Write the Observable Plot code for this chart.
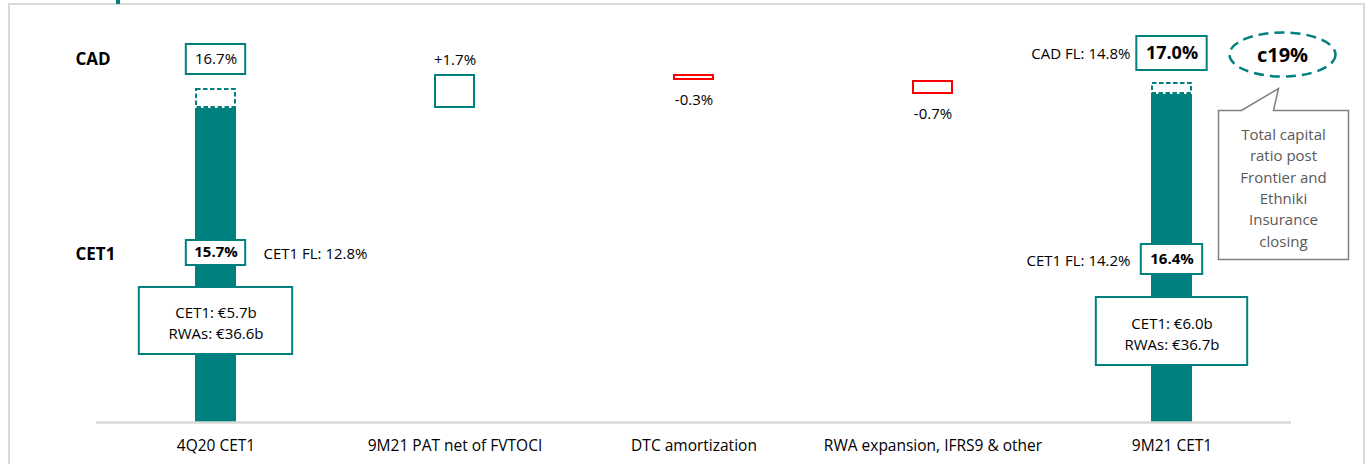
<!DOCTYPE html>
<html><head><meta charset="utf-8">
<script src="https://cdn.jsdelivr.net/npm/d3@7"></script>
<script src="https://cdn.jsdelivr.net/npm/@observablehq/plot@0.6"></script>
<style>
body{margin:0;background:#fff;font-family:"Open Sans",sans-serif;}
#wrap{position:relative;width:1369px;height:464px;overflow:hidden;}
#frame{position:absolute;left:8px;top:3px;width:1357px;height:480px;border:2px solid #dadada;box-sizing:border-box;}
#tick{position:absolute;left:116px;top:0;width:4px;height:4px;background:#00807f;}
#chart{position:absolute;left:0;top:0;}
</style></head>
<body><div id="wrap"><div id="frame"></div><div id="tick"></div><div id="chart"></div></div>
<script>
// ---- data ----
const categories = ["4Q20 CET1", "9M21 PAT net of FVTOCI", "DTC amortization", "RWA expansion, IFRS9 & other", "9M21 CET1"];
const totalCats = ["4Q20 CET1", "9M21 CET1"];
const cet1Ratio = [15.7, 16.4];
const cadRatio = [16.7, 17.0];
const cet1FL = [12.8, 14.2];
const cadFL = [null, 14.8];
const cet1Amount = [5.7, 6.0];
const rwaAmount = [36.6, 36.7];
const stepCats = ["9M21 PAT net of FVTOCI", "DTC amortization", "RWA expansion, IFRS9 & other"];
const stepDeltas = [1.7, -0.3, -0.7];
const rowLabels = ["CAD", "CET1"];
const targetLabel = "c19%";
const calloutLines = ["Total capital", "ratio post", "Frontier and", "Ethniki", "Insurance", "closing"];

// ---- layout ----
const teal = "#00807f", red = "#ff0000", grey = "#808080";
const W = 1369, H = 464, mL = 96, mR = 78, mT = 22, mB = 42;
const padInner = 0.83;
const step = (W - mL - mR) / categories.length;
const bw = step * (1 - padInner);
const FS = 15;

const totals = totalCats.map((cat, i) => ({cat, cet1: cet1Ratio[i], cad: cadRatio[i], cet1FL: cet1FL[i], cadFL: cadFL[i], cet1Amt: cet1Amount[i], rwa: rwaAmount[i]}));
let cum = cet1Ratio[0];
const steps = stepCats.map((cat, i) => { const y1 = cum; cum += stepDeltas[i]; return {cat, delta: stepDeltas[i], y1, y2: cum}; });
const L = totals.slice(0, 1), R = totals.slice(1);

function box(data, w, top, bottom, opts = {}) {
  const inset = (bw - w) / 2;
  return Plot.cell(data, {x: "cat", fill: "white", stroke: teal, strokeWidth: 2,
    insetLeft: inset, insetRight: inset, insetTop: top - mT, insetBottom: (H - mB) - bottom, ...opts});
}
function label(data, text, yPix, opts = {}) {
  return Plot.text(data, {x: "cat", text, frameAnchor: "top", lineAnchor: "middle", dy: yPix - mT, fontSize: FS, fill: "#000", ...opts});
}
function ellipseSymbol(rx, ry) {
  const k = 0.5523;
  return {draw(c) {
    c.moveTo(rx, 0);
    c.bezierCurveTo(rx, ry * k, rx * k, ry, 0, ry);
    c.bezierCurveTo(-rx * k, ry, -rx, ry * k, -rx, 0);
    c.bezierCurveTo(-rx, -ry * k, -rx * k, -ry, 0, -ry);
    c.bezierCurveTo(rx * k, -ry, rx, -ry * k, rx, 0);
    c.closePath();
  }};
}
const calloutSymbol = {draw(c) {
  c.moveTo(-65, -74.5);
  c.lineTo(-42, -74.5);
  c.lineTo(-5, -96.5);
  c.lineTo(-10, -74.5);
  c.lineTo(65, -74.5);
  c.lineTo(65, 74.5);
  c.lineTo(-65, 74.5);
  c.closePath();
}};

const chart = Plot.plot({
  width: W, height: H,
  marginLeft: mL, marginRight: mR, marginTop: mT, marginBottom: mB,
  style: {fontFamily: "'Open Sans', sans-serif", fontSize: "15.5px", color: "#000", background: "transparent", overflow: "visible"},
  x: {domain: categories, paddingInner: padInner, paddingOuter: padInner / 2, tickSize: 0, tickPadding: 17, label: null},
  y: {domain: [0, 20], axis: null},
  color: {type: "identity"},
  marks: [
    Plot.barY(totals, {x: "cat", y1: 0, y2: "cet1", fill: teal}),
    Plot.barY(totals, {x: "cat", y1: "cet1", y2: "cad", fill: "white", stroke: teal, strokeWidth: 2, strokeDasharray: "4.5,2.5", inset: 1}),
    Plot.barY(steps, {x: "cat", y1: "y1", y2: "y2", fill: "white", stroke: d => d.delta > 0 ? teal : red, strokeWidth: 2, inset: 1}),
    Plot.ruleY([0], {stroke: "#d9d9d9", strokeWidth: 2.5}),
    Plot.text(steps.filter(d => d.delta > 0), {x: "cat", y: "y2", dy: -14, text: d => "+" + d.delta.toFixed(1) + "%", fontSize: FS}),
    Plot.text(steps.filter(d => d.delta < 0), {x: "cat", y: "y2", dy: 20, text: d => d.delta.toFixed(1) + "%", fontSize: FS}),
    Plot.text(rowLabels.slice(0, 1), {text: d => d, frameAnchor: "top-left", lineAnchor: "middle", dx: -21, dy: 59 - mT, textAnchor: "start", fontWeight: "bold", fontSize: 17}),
    Plot.text(rowLabels.slice(1), {text: d => d, frameAnchor: "top-left", lineAnchor: "middle", dx: -21, dy: 254 - mT, textAnchor: "start", fontWeight: "bold", fontSize: 17}),
    // left total annotations
    box(L, 59, 44, 74), label(L, d => d.cad.toFixed(1) + "%", 59),
    box(L, 59, 240, 265), label(L, d => d.cet1.toFixed(1) + "%", 252, {fontWeight: "bold"}),
    label(L, d => `CET1 FL: ${d.cet1FL.toFixed(1)}%`, 254, {textAnchor: "start", dx: 47.5}),
    box(L, 153, 287, 354), label(L, d => `CET1: €${d.cet1Amt.toFixed(1)}b\nRWAs: €${d.rwa.toFixed(1)}b`, 321, {lineHeight: 1.45}),
    // right total annotations
    box(R, 70, 36, 70), label(R, d => d.cad.toFixed(1) + "%", 53, {fontWeight: "bold", fontSize: 18}),
    label(R, d => `CAD FL: ${d.cadFL.toFixed(1)}%`, 54, {textAnchor: "end", dx: -41.5}),
    box(R, 61, 244, 274), label(R, d => d.cet1.toFixed(1) + "%", 259, {fontWeight: "bold"}),
    label(R, d => `CET1 FL: ${d.cet1FL.toFixed(1)}%`, 261, {textAnchor: "end", dx: -41.5}),
    box(R, 151, 297, 365), label(R, d => `CET1: €${d.cet1Amt.toFixed(1)}b\nRWAs: €${d.rwa.toFixed(1)}b`, 332, {lineHeight: 1.45}),
    // target ellipse + callout
    Plot.dot(R, {x: "cat", frameAnchor: "top", dx: 110.5, dy: 54 - mT, symbol: ellipseSymbol(53, 22), fill: "white", stroke: teal, strokeWidth: 2.5, strokeDasharray: "10,6"}),
    label(R, () => targetLabel, 55, {dx: 110.5, fontWeight: "bold", fontSize: 20}),
    Plot.dot(R, {x: "cat", frameAnchor: "top", dx: 111.5, dy: 184.5 - mT, symbol: calloutSymbol, fill: "white", stroke: grey, strokeWidth: 1.5}),
    label(R, () => calloutLines.join("\n"), 186, {dx: 111.5, fill: "#595959", lineHeight: 1.42})
  ]
});
document.getElementById("chart").appendChild(chart);
</script>
</body></html>
